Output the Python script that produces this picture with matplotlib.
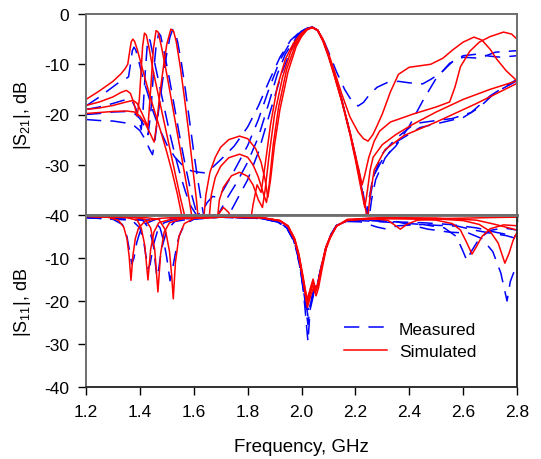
import matplotlib
matplotlib.use("Agg")
import matplotlib.pyplot as plt

plt.rcParams["font.family"] = ["Liberation Sans", "DejaVu Sans"]
plt.rcParams["mathtext.fontset"] = "custom"
plt.rcParams["mathtext.rm"] = "Liberation Sans"
plt.rcParams["mathtext.it"] = "Liberation Sans:italic"
plt.rcParams["axes.unicode_minus"] = False

# ---- |S21| simulated, (GHz, dB), four tuning states
s21_sim_1 = [(1.20, -17.0), (1.25, -15.3), (1.30, -13.4), (1.33, -11.9), (1.345, -10.9), (1.355, -10.0),
             (1.362, -7.5), (1.368, -5.5), (1.374, -5.0), (1.380, -5.4), (1.39, -7.0), (1.40, -9.0),
             (1.42, -13.0), (1.44, -16.8), (1.46, -20.3), (1.48, -23.8), (1.50, -27.5), (1.52, -31.5),
             (1.54, -36.0), (1.555, -40.0), (1.565, -45), (1.63, -45), (1.645, -36), (1.66, -31.5),
             (1.68, -28.5), (1.70, -26.5), (1.73, -25.0), (1.77, -24.3), (1.80, -24.8), (1.83, -26.8),
             (1.85, -29.5), (1.865, -33), (1.875, -36.5), (1.885, -33), (1.90, -26), (1.92, -19),
             (1.95, -11.5), (1.98, -6.5), (2.00, -4.5), (2.02, -3.2), (2.04, -2.7), (2.06, -3.2),
             (2.08, -5.0), (2.10, -7.8), (2.12, -11.0), (2.15, -16.0), (2.18, -20.5), (2.21, -23.5),
             (2.23, -24.8), (2.247, -25.3), (2.265, -24.0), (2.28, -22.3), (2.30, -19.9), (2.33, -15.5),
             (2.36, -12.0), (2.40, -10.6), (2.48, -10.0), (2.525, -8.8), (2.56, -7.2), (2.60, -5.6),
             (2.64, -4.6), (2.67, -5.2), (2.70, -7.0), (2.725, -9.0), (2.76, -11.3), (2.80, -13.3)]
s21_sim_2 = [(1.20, -18.2), (1.25, -17.5), (1.30, -16.5), (1.33, -15.6), (1.35, -15.2), (1.365, -15.8),
             (1.378, -17.8), (1.39, -20.3), (1.398, -17.0), (1.405, -11.0), (1.41, -6.5), (1.417, -3.8),
             (1.424, -4.2), (1.435, -7.0), (1.45, -11.5), (1.47, -16.5), (1.49, -21.5), (1.51, -26.5),
             (1.53, -31.5), (1.55, -36.5), (1.57, -41), (1.58, -45), (1.65, -45), (1.665, -36),
             (1.68, -32.5), (1.70, -30.3), (1.73, -28.6), (1.77, -27.9), (1.80, -28.5), (1.82, -30.0),
             (1.84, -32.5), (1.86, -36), (1.87, -37.5), (1.88, -34), (1.895, -26), (1.915, -18.5),
             (1.945, -11), (1.975, -6.5), (2.00, -4.2), (2.02, -3.1), (2.04, -2.7), (2.06, -3.3),
             (2.08, -5.5), (2.10, -8.5), (2.12, -12.0), (2.15, -17.5), (2.18, -23.5), (2.20, -28),
             (2.215, -31.5), (2.225, -34), (2.235, -32), (2.25, -28.5), (2.27, -25.3), (2.29, -23.3),
             (2.33, -21.5), (2.415, -19.9), (2.50, -18.5), (2.55, -17.5), (2.57, -14.5), (2.59, -10.5),
             (2.625, -7.4), (2.66, -5.6), (2.70, -4.5), (2.75, -3.6), (2.78, -4.0), (2.80, -5.0)]
s21_sim_3 = [(1.20, -19.0), (1.25, -18.7), (1.30, -18.2), (1.35, -17.5), (1.375, -17.2), (1.39, -17.8),
             (1.41, -20.0), (1.43, -22.5), (1.44, -15), (1.45, -7), (1.46, -3.3), (1.468, -3.6),
             (1.48, -6.5), (1.50, -12), (1.52, -18), (1.54, -24), (1.56, -30), (1.58, -36), (1.595, -41),
             (1.60, -45), (1.68, -45), (1.695, -37), (1.71, -34.5), (1.74, -32.2), (1.77, -31.5),
             (1.80, -32.3), (1.82, -34), (1.84, -37), (1.855, -38.5), (1.865, -35), (1.88, -28),
             (1.90, -20), (1.93, -12.5), (1.96, -7.5), (1.99, -4.5), (2.02, -3.0), (2.04, -2.6),
             (2.06, -3.2), (2.08, -5.3), (2.10, -8.3), (2.12, -11.8), (2.15, -17.5), (2.18, -24),
             (2.20, -29), (2.22, -34.5), (2.235, -38.5), (2.245, -35), (2.255, -31), (2.266, -28.5),
             (2.30, -26), (2.35, -24), (2.415, -21.9), (2.50, -19.5), (2.60, -17.0), (2.70, -15.0),
             (2.80, -13.3)]
s21_sim_4 = [(1.20, -19.8), (1.25, -19.6), (1.30, -19.4), (1.35, -19.3), (1.38, -19.5), (1.40, -20.3),
             (1.42, -21.8), (1.44, -24.0), (1.453, -25.5), (1.462, -22), (1.475, -15.5), (1.49, -9.5),
             (1.50, -6), (1.515, -3.0), (1.525, -3.4), (1.535, -5.5), (1.55, -10.5), (1.565, -16.5),
             (1.58, -23), (1.595, -30), (1.61, -37), (1.617, -41), (1.625, -45), (1.675, -45), (1.69, -40),
             (1.71, -38.5), (1.73, -39.5), (1.745, -42), (1.755, -45), (1.80, -45), (1.82, -38),
             (1.835, -34), (1.85, -35.5), (1.865, -30), (1.885, -22), (1.91, -14.5), (1.94, -9),
             (1.97, -5.8), (2.00, -3.8), (2.02, -3.0), (2.04, -2.7), (2.06, -3.2), (2.08, -5.3),
             (2.10, -8.2), (2.12, -11.6), (2.15, -17.2), (2.18, -23.5), (2.20, -28.5), (2.22, -34),
             (2.235, -38), (2.245, -41), (2.255, -36), (2.27, -31), (2.31, -27), (2.38, -24.2),
             (2.50, -21.5), (2.65, -17.8), (2.80, -13.8)]

# ---- |S21| measured
s21_meas_1 = [(1.20, -18.3), (1.25, -16.5), (1.30, -14.5), (1.33, -13.3), (1.35, -12.8), (1.358, -12.5),
              (1.365, -10.0), (1.372, -7.3), (1.378, -6.6), (1.385, -7.2), (1.395, -9.2), (1.41, -12.5),
              (1.43, -16.0), (1.45, -19.5), (1.47, -22.5), (1.50, -26.0), (1.53, -28.5), (1.56, -30.2),
              (1.59, -31.2), (1.62, -31.5), (1.64, -31.6), (1.66, -31.0), (1.70, -29.0), (1.75, -26.3),
              (1.80, -22.5), (1.84, -18.3), (1.88, -13.3), (1.92, -8.6), (1.96, -5.2), (2.00, -3.3),
              (2.02, -2.8), (2.04, -2.6), (2.06, -3.2), (2.08, -5.0), (2.10, -7.5), (2.13, -11.5),
              (2.16, -15.0), (2.19, -17.6), (2.21, -18.3), (2.23, -17.6), (2.25, -16.2), (2.28, -14.6),
              (2.32, -13.6), (2.36, -13.4), (2.40, -13.7), (2.45, -13.9), (2.48, -13.0), (2.52, -11.6),
              (2.56, -9.5), (2.60, -8.3), (2.65, -8.0), (2.70, -8.4), (2.74, -8.6), (2.80, -8.3)]
s21_meas_2 = [(1.20, -19.0), (1.25, -18.5), (1.30, -17.8), (1.35, -17.0), (1.37, -17.2), (1.385, -18.8),
              (1.398, -21.5), (1.405, -23.0), (1.412, -19), (1.42, -11.5), (1.427, -6.5), (1.432, -4.8),
              (1.438, -5.3), (1.45, -8.5), (1.47, -13.5), (1.49, -18.5), (1.51, -23.5), (1.53, -28),
              (1.55, -32), (1.57, -35.5), (1.59, -38.3), (1.61, -40), (1.63, -39.5), (1.65, -37.5),
              (1.67, -36.3), (1.69, -36.5), (1.71, -35), (1.75, -31.2), (1.80, -26.2), (1.84, -21),
              (1.88, -14.8), (1.92, -9.2), (1.96, -5.5), (2.00, -3.4), (2.02, -2.8), (2.04, -2.6),
              (2.06, -3.3), (2.08, -5.2), (2.10, -8.2), (2.12, -11.6), (2.15, -17.2), (2.18, -23.6),
              (2.21, -30.5), (2.23, -36), (2.245, -41), (2.255, -36.5), (2.27, -32), (2.30, -27.8),
              (2.35, -24.8), (2.42, -21.8), (2.50, -21.2), (2.56, -20.8), (2.63, -19.6), (2.70, -16.3),
              (2.75, -14.6), (2.80, -13.0)]
s21_meas_3 = [(1.20, -20.0), (1.25, -19.8), (1.30, -19.5), (1.35, -19.4), (1.38, -19.8), (1.40, -20.8),
              (1.42, -22.6), (1.43, -24.0), (1.44, -20), (1.45, -12), (1.46, -6.5), (1.47, -3.8),
              (1.477, -4.3), (1.49, -7.5), (1.51, -13), (1.53, -19), (1.55, -25), (1.57, -30.5),
              (1.59, -35.5), (1.61, -39.5), (1.625, -42), (1.66, -42), (1.69, -40), (1.72, -37),
              (1.76, -33.5), (1.80, -29.5), (1.84, -24.5), (1.88, -17.5), (1.91, -12), (1.94, -8),
              (1.97, -5.5), (2.00, -3.6), (2.02, -2.9), (2.04, -2.6), (2.06, -3.3), (2.08, -5.2),
              (2.10, -8.2), (2.12, -11.6), (2.15, -17.3), (2.18, -23.8), (2.21, -31), (2.23, -36.5),
              (2.24, -40.5), (2.25, -37), (2.265, -32.5), (2.30, -29.0), (2.35, -26.3), (2.40, -22.3),
              (2.45, -17.3), (2.50, -12.8), (2.55, -9.8), (2.60, -8.6), (2.66, -8.8), (2.72, -7.6),
              (2.80, -7.3)]
s21_meas_4 = [(1.20, -21.0), (1.25, -21.2), (1.30, -21.3), (1.35, -21.7), (1.38, -22.3), (1.40, -23.2),
              (1.42, -25), (1.435, -26.8), (1.447, -28), (1.455, -25.5), (1.47, -19), (1.485, -13),
              (1.50, -7.8), (1.512, -4.5), (1.522, -3.1), (1.53, -3.6), (1.54, -5.5), (1.555, -10),
              (1.57, -15.5), (1.585, -21.5), (1.60, -27.5), (1.615, -33), (1.63, -38), (1.64, -41),
              (1.70, -42), (1.73, -40), (1.76, -37), (1.80, -33), (1.84, -27.5), (1.87, -22), (1.90, -16.5),
              (1.93, -11.3), (1.96, -7.2), (1.99, -4.5), (2.02, -3.0), (2.04, -2.6), (2.06, -3.3),
              (2.08, -5.2), (2.10, -8.2), (2.12, -11.6), (2.15, -17.2), (2.18, -23.6), (2.21, -30.8),
              (2.23, -36.5), (2.25, -41), (2.26, -37), (2.275, -33), (2.31, -28.7), (2.36, -25.2),
              (2.44, -22.6), (2.52, -21.6), (2.60, -20.6), (2.66, -18.6), (2.72, -15.6), (2.80, -13.3)]

# ---- |S11| simulated
s11_sim_1 = [(1.20, -0.3), (1.28, -0.5), (1.32, -1.2), (1.34, -2.8), (1.352, -5.5), (1.36, -9.5),
             (1.367, -15.2), (1.374, -9.5), (1.383, -5.5), (1.395, -3.0), (1.42, -1.4), (1.47, -0.8),
             (1.55, -0.5), (1.70, -0.4), (1.85, -0.6), (1.92, -1.3), (1.95, -2.5), (1.975, -5.5),
             (1.99, -9.0), (2.005, -14.0), (2.02, -19.5), (2.032, -17.5), (2.043, -15.5), (2.052, -17.2),
             (2.06, -16.0), (2.075, -11.5), (2.09, -7.5), (2.105, -5.2), (2.13, -2.5), (2.17, -1.3),
             (2.25, -0.8), (2.32, -1.2), (2.345, -2.3), (2.367, -3.3), (2.39, -2.2), (2.43, -1.2),
             (2.55, -0.8), (2.70, -0.6), (2.80, -0.5)]
s11_sim_2 = [(1.20, -0.3), (1.35, -0.6), (1.39, -1.2), (1.405, -3.0), (1.418, -7.0), (1.43, -15.1),
             (1.44, -8.0), (1.452, -4.0), (1.47, -1.8), (1.52, -0.9), (1.70, -0.5), (1.85, -0.6),
             (1.92, -1.3), (1.95, -2.6), (1.975, -5.8), (1.99, -9.5), (2.005, -14.5), (2.022, -20.3),
             (2.033, -17.0), (2.043, -14.9), (2.053, -17.5), (2.062, -16.2), (2.077, -11.5), (2.09, -7.8),
             (2.105, -5.4), (2.13, -2.6), (2.17, -1.2), (2.25, -0.8), (2.40, -0.9), (2.50, -1.2),
             (2.56, -2.0), (2.59, -3.5), (2.61, -6.0), (2.633, -9.1), (2.65, -7.3), (2.67, -5.0),
             (2.70, -3.2), (2.75, -2.3), (2.80, -2.5)]
s11_sim_3 = [(1.20, -0.3), (1.38, -0.6), (1.42, -1.0), (1.44, -3.0), (1.455, -8.0), (1.467, -17.9),
             (1.477, -9.0), (1.49, -4.0), (1.51, -1.8), (1.56, -0.8), (1.70, -0.5), (1.85, -0.6),
             (1.92, -1.3), (1.95, -2.6), (1.975, -5.7), (1.99, -9.3), (2.005, -14.5), (2.02, -20.8),
             (2.031, -18.5), (2.042, -16.3), (2.052, -18.0), (2.06, -16.5), (2.076, -11.8), (2.09, -7.8),
             (2.105, -5.3), (2.13, -2.5), (2.17, -1.2), (2.30, -0.8), (2.50, -0.9), (2.60, -1.3),
             (2.66, -2.2), (2.70, -3.8), (2.73, -6.5), (2.755, -11.2), (2.77, -9.0), (2.785, -6.0),
             (2.80, -4.0)]
s11_sim_4 = [(1.20, -0.3), (1.42, -0.6), (1.47, -1.0), (1.495, -3.5), (1.51, -8.5), (1.518, -14.0),
             (1.524, -19.5), (1.532, -11.0), (1.545, -5.0), (1.565, -2.0), (1.60, -0.8), (1.70, -0.5),
             (1.85, -0.6), (1.92, -1.4), (1.95, -2.7), (1.975, -6.0), (1.99, -9.7), (2.005, -15.0),
             (2.022, -21.5), (2.033, -19.0), (2.044, -17.0), (2.054, -18.8), (2.063, -17.0), (2.078, -12.0),
             (2.092, -7.8), (2.107, -5.3), (2.13, -2.6), (2.17, -1.0), (2.30, -0.6), (2.50, -0.7),
             (2.65, -1.2), (2.72, -2.2), (2.80, -3.5)]

# ---- |S11| measured
s11_meas_1 = [(1.20, -0.6), (1.30, -1.0), (1.335, -2.2), (1.352, -5.0), (1.362, -8.5), (1.37, -11.4),
              (1.378, -10.0), (1.388, -6.5), (1.40, -4.0), (1.42, -2.0), (1.46, -1.0), (1.70, -0.5),
              (1.85, -0.8), (1.91, -1.5), (1.945, -2.8), (1.97, -5.5), (1.985, -8.5), (2.00, -14.0),
              (2.012, -21.0), (2.024, -29.5), (2.032, -22.0), (2.045, -18.5), (2.06, -16.5), (2.075, -12.0),
              (2.09, -8.0), (2.11, -4.5), (2.13, -2.5), (2.17, -1.4), (2.22, -1.0), (2.30, -1.5),
              (2.45, -1.8), (2.55, -2.2), (2.65, -3.0), (2.72, -4.0), (2.80, -5.0)]
s11_meas_2 = [(1.20, -0.6), (1.37, -1.2), (1.40, -3.0), (1.415, -6.5), (1.43, -12.5), (1.438, -11.5),
              (1.45, -7.0), (1.465, -3.8), (1.49, -1.8), (1.53, -1.0), (1.70, -0.5), (1.85, -0.8),
              (1.91, -1.5), (1.945, -2.9), (1.97, -5.7), (1.985, -8.8), (2.00, -14.0), (2.012, -19.5),
              (2.024, -25.5), (2.033, -21.0), (2.045, -18.0), (2.06, -16.0), (2.075, -11.8), (2.09, -7.9),
              (2.11, -4.5), (2.13, -2.5), (2.17, -1.5), (2.22, -1.6), (2.28, -2.8), (2.31, -3.2),
              (2.36, -2.5), (2.45, -2.2), (2.53, -3.0), (2.575, -5.0), (2.60, -8.5), (2.614, -10.6),
              (2.63, -8.5), (2.66, -5.5), (2.70, -3.6), (2.75, -3.0), (2.80, -3.5)]
s11_meas_3 = [(1.20, -0.6), (1.41, -1.2), (1.435, -3.2), (1.45, -7.0), (1.463, -14.4), (1.47, -12.5),
              (1.48, -8.0), (1.50, -3.5), (1.53, -1.5), (1.60, -0.8), (1.70, -0.5), (1.85, -0.8),
              (1.91, -1.6), (1.945, -3.0), (1.97, -5.8), (1.985, -9.0), (2.00, -14.2), (2.012, -19.0),
              (2.024, -23.5), (2.034, -20.5), (2.046, -17.8), (2.06, -15.8), (2.075, -11.6), (2.09, -7.8),
              (2.11, -4.4), (2.13, -2.4), (2.17, -1.4), (2.22, -1.2), (2.35, -1.5), (2.47, -3.3),
              (2.55, -4.0), (2.62, -4.2), (2.67, -5.5), (2.71, -8.5), (2.74, -13.5), (2.763, -20.0),
              (2.775, -15.5), (2.79, -13.0), (2.80, -12.5)]
s11_meas_4 = [(1.20, -0.6), (1.45, -1.2), (1.475, -3.0), (1.49, -6.5), (1.50, -10.0), (1.512, -15.3),
              (1.52, -13.0), (1.53, -9.5), (1.545, -5.0), (1.565, -2.2), (1.60, -1.0), (1.70, -0.5),
              (1.85, -0.8), (1.91, -1.6), (1.945, -3.0), (1.97, -5.9), (1.985, -9.2), (2.00, -14.5),
              (2.012, -18.8), (2.024, -22.0), (2.034, -20.0), (2.046, -17.5), (2.06, -15.6), (2.075, -11.4),
              (2.09, -7.7), (2.11, -4.4), (2.13, -2.4), (2.17, -1.4), (2.22, -1.3), (2.30, -1.6),
              (2.40, -2.0), (2.50, -2.4), (2.58, -2.6), (2.64, -3.5), (2.70, -4.2), (2.76, -4.8),
              (2.80, -5.5)]

s21_sim = [s21_sim_1, s21_sim_2, s21_sim_3, s21_sim_4]
s21_meas = [s21_meas_1, s21_meas_2, s21_meas_3, s21_meas_4]
s11_sim = [s11_sim_1, s11_sim_2, s11_sim_3, s11_sim_4]
s11_meas = [s11_meas_1, s11_meas_2, s11_meas_3, s11_meas_4]

freq_ticks = [1.2, 1.4, 1.6, 1.8, 2.0, 2.2, 2.4, 2.6, 2.8]
freq_labels = ["1.2", "1.4", "1.6", "1.8", "2.0", "2.2", "2.4", "2.6", "2.8"]

BLUE, RED = "#0000ff", "#ff0000"
meas_style = dict(color=BLUE, lw=1.1, dashes=(10, 6))
sim_style = dict(color=RED, lw=1.1)


def draw(ax, curves, style, label=None):
    for i, c in enumerate(curves):
        f, v = zip(*c)
        ax.plot(f, v, label=label if i == 0 else None, **style)


fig = plt.figure(figsize=(5.41, 4.60), dpi=100)
W, H = 541, 460
ax1 = fig.add_axes([86 / W, 1 - 216 / H, 431 / W, 201 / H])
ax2 = fig.add_axes([86 / W, 1 - 388 / H, 431 / W, 172 / H])

draw(ax1, s21_meas, meas_style)
draw(ax1, s21_sim, sim_style)
draw(ax2, s11_meas, meas_style, "Measured")
draw(ax2, s11_sim, sim_style, "Simulated")

for ax in (ax1, ax2):
    ax.set_xlim(1.2, 2.8)
    ax.set_ylim(-40, 0)
    ax.set_xticks(freq_ticks)
    ax.tick_params(axis="both", direction="out", length=6, width=1, color="black",
                   labelsize=12.5, pad=6)
    for s in ax.spines.values():
        s.set_color("#6e6e6e")
        s.set_linewidth(1.4)

ax1.set_yticks([0, -10, -20, -30, -40])
ax1.tick_params(axis="x", labelbottom=False, length=5)
ax1.spines["bottom"].set_linewidth(2.0)
ax2.spines["top"].set_linewidth(2.0)
ax2.spines["bottom"].set_color("#303030")
ax2.spines["right"].set_color("#303030")
ax2.tick_params(axis="x", top=False)
ax2.set_yticks([-40, -30, -20, -10])
ax2.set_xticklabels(freq_labels)

ax1.set_ylabel("|S$_{21}$|, dB", fontsize=13)
ax2.set_ylabel("|S$_{11}$|, dB", fontsize=13)
ax1.yaxis.set_label_coords(-0.123, 0.5)
ax2.yaxis.set_label_coords(-0.123, 0.5)
ax2.set_xlabel("Frequency, GHz", fontsize=13.5, labelpad=14)

ax2.legend(loc="center", bbox_to_anchor=(410 / W, 1 - 341 / H), bbox_transform=fig.transFigure,
           frameon=False, fontsize=12.5, handlelength=2.5, handletextpad=0.7, labelspacing=0.4)

fig.savefig("out.png", dpi=100)
